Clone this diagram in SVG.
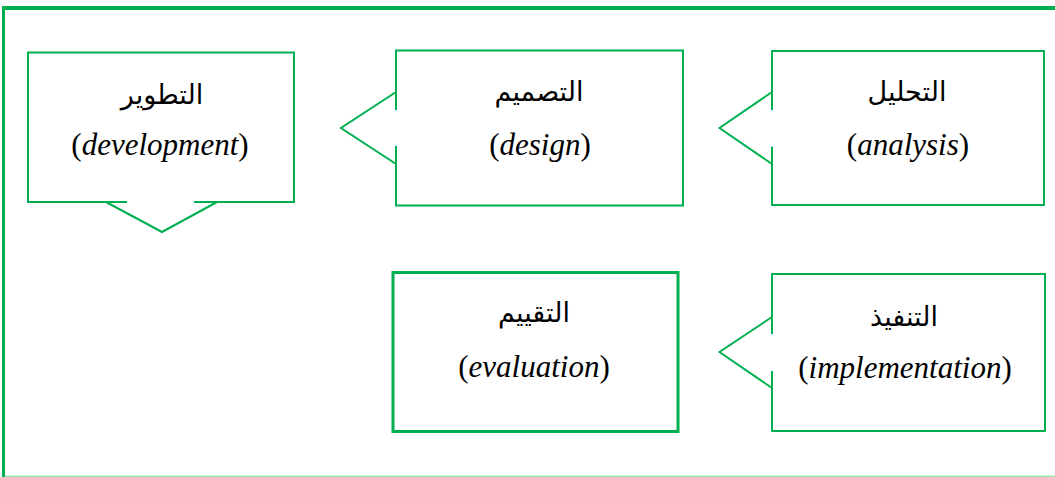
<svg xmlns="http://www.w3.org/2000/svg" width="1055" height="477" viewBox="0 0 1055 477">
<style>
.box{fill:none;stroke:#00B050;stroke-width:2}
.thick{stroke-width:3}
.ar{font-family:'DejaVu Sans',sans-serif;font-size:27px;fill:#000;text-anchor:middle}
.en{font-family:'Liberation Serif','Times New Roman',serif;font-size:31px;fill:#000;text-anchor:middle}
.it{font-style:italic}
</style>
<rect x="0" y="0" width="1055" height="477" fill="#fff"/>
<g id="frame">
<rect x="2" y="6" width="1053" height="4" fill="#00B050"/>
<rect x="2" y="6" width="3" height="471" fill="#00B050"/>
<rect x="5" y="475.5" width="1050" height="1.5" fill="#9EE2B4"/>
</g>
<g id="analysis">
<path class="box" d="M772,110 V51 H1044 V205 H772 V146.5 M772,92 L719.5,128 L772,164"/>
<text class="ar" x="907" y="101">التحليل</text>
<text class="en" x="908" y="155">(<tspan class="it">analysis</tspan>)</text>
</g>
<g id="design">
<path class="box" d="M396,110 V50.5 H683 V205.5 H396 V146 M396,92 L341,128 L396,164"/>
<text class="ar" x="539" y="101">التصميم</text>
<text class="en" x="540" y="155">(<tspan class="it">design</tspan>)</text>
</g>
<g id="development">
<path class="box" d="M127,202 H28 V52.5 H294 V202 H194 M106,202 L162,232 L217,202"/>
<text class="ar" x="162" y="104">التطوير</text>
<text class="en" x="160" y="155">(<tspan class="it">development</tspan>)</text>
</g>
<g id="implementation">
<path class="box" d="M772,334 V274 H1045 V431 H772 V371 M772,317 L719.5,352 L772,388"/>
<text class="ar" x="904" y="326">التنفيذ</text>
<text class="en" x="905" y="378">(<tspan class="it">implementation</tspan>)</text>
</g>
<g id="evaluation">
<rect class="box thick" x="393" y="272.5" width="285" height="159"/>
<text class="ar" x="534" y="322">التقييم</text>
<text class="en" x="534" y="377">(<tspan class="it">evaluation</tspan>)</text>
</g>
</svg>
